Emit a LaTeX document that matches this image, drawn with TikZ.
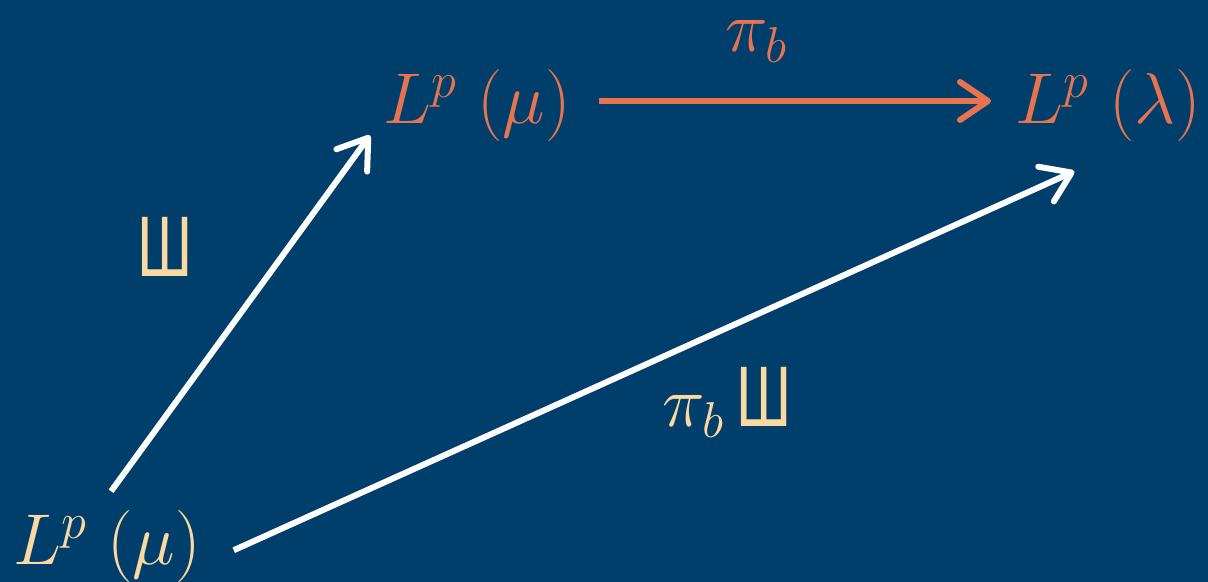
\RequirePackage{fix-cm}
\documentclass[tikz,border=0pt]{standalone}
\usepackage{fontspec}
\usepackage{amsmath}
\usetikzlibrary{arrows.meta}
\newfontfamily\shafont[FakeStretch=0.7]{Liberation Sans}
\newcommand{\Sh}{\mbox{\shafont\fontsize{43}{46}\selectfont Ш}}
\definecolor{bgblue}{HTML}{003F6B}
\definecolor{lporange}{HTML}{E8734F}
\definecolor{lpcream}{HTML}{FDD9A2}

\begin{document}
\begin{tikzpicture}[x=0.5pt, y=0.5pt,
    lbl/.style={inner sep=0pt, anchor=base west, font=\fontsize{36}{42}\selectfont},
    mapto/.style={line width=3pt, -{Straight Barb[length=14pt, width=19pt, round]}}]
    % Background
    \fill[bgblue] (0,0) rectangle (1208,582);
    \useasboundingbox (0,0) rectangle (1208,582);

    % Spaces
    \node[lbl, text=lporange] (lpmu) at (383,458) {$L^p\;(\mu)$};
    \node[lbl, text=lporange] (lplam) at (1015,458) {$L^p\;(\lambda)$};
    \node[lbl, text=lpcream] (lpbot) at (13,17) {$L^p\;(\mu)$};

    % Map labels
    \node[lbl, text=lporange] (pib) at (725,530) {$\pi_b$};
    \node[lbl, text=lpcream] (sha) at (137,305) {\Sh};
    \node[lbl, text=lpcream] (pibsha) at (662,155) {$\pi_b\,\Sh$};

    % Maps
    \draw[mapto, lporange] ([yshift=2.5pt]lpmu.east) -- ([yshift=2.5pt]lplam.west)
        [shorten <=14pt, shorten >=12pt];
    \draw[mapto, white, shorten <=12pt] ([xshift=-5pt]lpbot.north)
        -- ([xshift=-6.5pt, yshift=3.5pt]lpmu.south west);
    \draw[mapto, white, shorten <=18pt] ([yshift=-9pt]lpbot.east)
        -- ([xshift=-17pt, yshift=-14.5pt]lplam.south);
\end{tikzpicture}
\end{document}
